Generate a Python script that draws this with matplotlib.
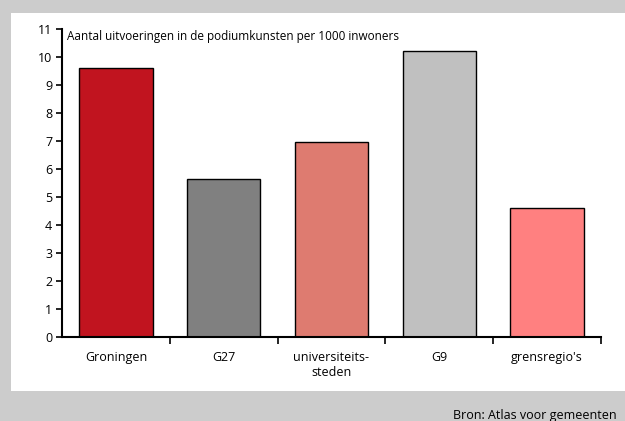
import matplotlib
matplotlib.use("Agg")
import matplotlib.pyplot as plt
from matplotlib.patches import Rectangle
import numpy as np

categories = ["Groningen", "G27", "universiteits-\nsteden", "G9", "grensregio's"]
values = [9.6, 5.65, 6.95, 10.2, 4.6]
colors = ["#c1141f", "#808080", "#de7b70", "#c0c0c0", "#ff8080"]
title = "Aantal uitvoeringen in de podiumkunsten per 1000 inwoners"
source = "Bron: Atlas voor gemeenten"

plt.rcParams["font.family"] = ["Open Sans", "DejaVu Sans"]

W, H = 625, 421
fig = plt.figure(figsize=(W / 100, H / 100), dpi=100)
fig.patch.set_facecolor("#cccccc")

# white panel behind the chart
panel = Rectangle((11 / W, 1 - 391 / H), 1 - 11 / W, (391 - 13) / H,
                  transform=fig.transFigure, facecolor="white",
                  edgecolor="none", zorder=-10)
fig.add_artist(panel)

ax = fig.add_axes([62 / W, 1 - 337 / H, (601 - 62) / W, (337 - 29) / H])
ax.set_zorder(1)
ax.set_facecolor("white")
x = np.arange(len(categories))
ax.bar(x, values, width=0.68, color=colors, edgecolor="black", linewidth=1.0, zorder=2)

ax.set_xlim(-0.5, len(categories) - 0.5)
ax.set_ylim(0, 11)
ax.set_yticks(range(0, 12))
ax.tick_params(axis="y", direction="out", length=4, width=1.2, labelsize=9, pad=3)
ax.set_xticks(x)
ax.set_xticklabels(categories, fontsize=9)
ax.tick_params(axis="x", which="major", length=0, pad=10)
ax.set_xticks(np.arange(0.5, len(categories) - 0.4, 1), minor=True)
ax.tick_params(axis="x", which="minor", direction="out", length=5, width=1.2)

for s in ["top", "right"]:
    ax.spines[s].set_visible(False)
for s in ["left", "bottom"]:
    ax.spines[s].set_linewidth(1.5)

ax.text(0.01, 0.976, title, transform=ax.transAxes, fontsize=8.5, va="center", ha="left")
fig.text(453 / W, 1 - 416 / H, source, fontsize=9, va="center", ha="left")

fig.savefig("out.png", dpi=100, facecolor=fig.get_facecolor())
